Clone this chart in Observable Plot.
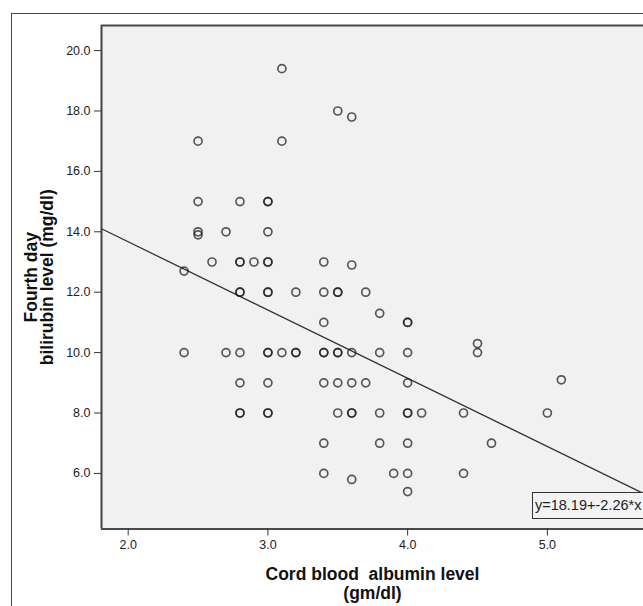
<!DOCTYPE html>
<html><head><meta charset="utf-8">
<script src="https://cdn.jsdelivr.net/npm/d3@7"></script>
<script src="https://cdn.jsdelivr.net/npm/@observablehq/plot@0.6"></script>
<style>
html,body{margin:0;padding:0;background:#fff;}
#wrap{position:relative;width:643px;height:606px;overflow:hidden;}
#border{position:absolute;left:11px;top:13px;width:700px;height:700px;border-left:1px solid #444;border-top:1px solid #444;pointer-events:none;}
#eq{position:absolute;left:532px;top:492px;height:27px;width:130px;border:1px solid #333;background:#f3f3f3;font:14.5px "Liberation Sans",Arial,sans-serif;color:#222;line-height:25px;padding-left:2px;box-sizing:border-box;white-space:nowrap;}
svg text{white-space:pre;}
</style></head><body><div id="wrap"><div id="border"></div></div>
<script>
// Cord blood albumin (gm/dl) and fourth-day bilirubin (mg/dl)
const albumin = [
  3.1, 3.5, 3.6, 2.5, 3.1,
  2.5, 2.8, 3.0, 3.0,
  2.5, 2.5, 2.7, 3.0,
  2.4, 2.6, 2.8, 2.8, 2.9, 3.0, 3.0, 3.4, 3.6,
  2.8, 2.8, 3.0, 3.0, 3.2, 3.4, 3.5, 3.5, 3.7,
  3.8, 3.4, 4.0, 4.0,
  4.5, 4.5,
  2.4, 2.7, 2.8, 3.0, 3.0, 3.1, 3.2, 3.2, 3.4, 3.4, 3.5, 3.5, 3.6, 3.8, 4.0,
  2.8, 3.0, 3.4, 3.5, 3.6, 3.7, 4.0, 5.1,
  2.8, 2.8, 3.0, 3.0, 3.5, 3.6, 3.6, 3.8, 4.0, 4.0, 4.1, 4.4, 5.0,
  3.4, 3.8, 4.0, 4.6,
  3.4, 3.9, 4.0, 4.4, 3.6, 4.0
];
const bilirubin = [
  19.4, 18.0, 17.8, 17.0, 17.0,
  15, 15, 15, 15,
  14, 13.9, 14, 14,
  12.7, 13, 13, 13, 13, 13, 13, 13, 12.9,
  12, 12, 12, 12, 12, 12, 12, 12, 12,
  11.3, 11, 11, 11,
  10.3, 10,
  10, 10, 10, 10, 10, 10, 10, 10, 10, 10, 10, 10, 10, 10, 10,
  9, 9, 9, 9, 9, 9, 9, 9.1,
  8, 8, 8, 8, 8, 8, 8, 8, 8, 8, 8, 8, 8,
  7, 7, 7, 7,
  6, 6, 6, 6, 5.8, 5.4
];
const xTicks = [2, 3, 4, 5];
const yTicks = [6, 8, 10, 12, 14, 16, 18, 20];
const intercept = 18.19;
const slope = -2.26;
const xDomain = [1.809, 5.688];
const yDomain = [4.16, 20.83];
const xLabel = ["Cord blood  albumin level", "(gm/dl)"];
const yLabel = ["Fourth day", "bilirubin level (mg/dl)"];

const points = albumin.map((a, i) => ({a, b: bilirubin[i]}));
const fit = xDomain.map(a => ({a, b: intercept + slope * a}));
const fmt = d3.format(".1f");
const font = "Liberation Sans, Arial, sans-serif";
const labelStyle = {fontSize: 17.5, fontWeight: "bold", fill: "#111", lineAnchor: "middle", textAnchor: "middle"};

const chart = Plot.plot({
  width: 643,
  height: 606,
  marginLeft: 101,
  marginRight: 0,
  marginTop: 25,
  marginBottom: 77.5,
  style: {fontFamily: font, background: "transparent", overflow: "visible"},
  x: {domain: xDomain},
  y: {domain: yDomain},
  marks: [
    Plot.frame({fill: "#f1f1f1", stroke: null}),
    Plot.ruleX([xDomain[0]], {stroke: "#444", strokeWidth: 2}),
    Plot.ruleY(yDomain, {stroke: "#4a4a4a", strokeWidth: 2}),
    Plot.line(fit, {x: "a", y: "b", stroke: "#333", strokeWidth: 1.3}),
    Plot.dot(points, {x: "a", y: "b", r: 4, fill: "none", stroke: "#1a1a1a", strokeOpacity: 0.72, strokeWidth: 1.7}),
    Plot.axisX({ticks: xTicks, tickFormat: fmt, tickSize: 7, tickPadding: 4, fontSize: 12.5, stroke: "#333", fill: "#222", label: null}),
    Plot.axisY({ticks: yTicks, tickFormat: fmt, tickSize: 7, tickPadding: 4, fontSize: 12.5, stroke: "#333", fill: "#222", label: null}),
    Plot.text([xLabel[0]], {frameAnchor: "bottom", dy: 45, ...labelStyle}),
    Plot.text([xLabel[1]], {frameAnchor: "bottom", dy: 64, ...labelStyle}),
    Plot.text([yLabel[0]], {frameAnchor: "left", dx: -70, rotate: -90, ...labelStyle}),
    Plot.text([yLabel[1]], {frameAnchor: "left", dx: -54, rotate: -90, ...labelStyle})
  ]
});
const wrap = document.getElementById("wrap");
wrap.insertBefore(chart, wrap.firstChild);
const eq = document.createElement("div");
eq.id = "eq";
eq.textContent = `y=${intercept}+${slope}*x`;
wrap.appendChild(eq);
</script>
</body></html>
